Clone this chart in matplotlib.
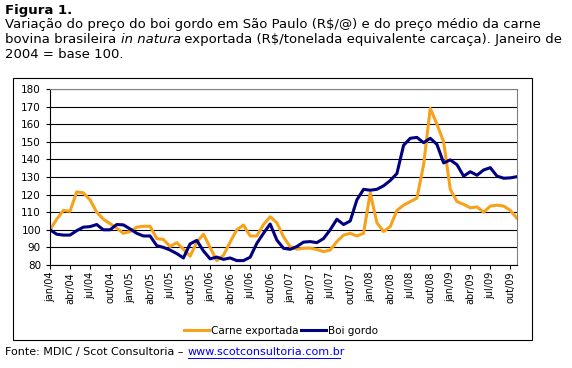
import matplotlib
matplotlib.use("Agg")
import matplotlib.pyplot as plt
from matplotlib.patches import Rectangle

# monthly series, jan/04 .. nov/09 (jan/2004 = 100)
carne = [100, 106, 111, 110.5, 121.5, 121, 117, 110, 106, 103.5,
         101, 98, 99, 101.5, 102, 102, 95, 94.5, 90.5, 92.7,
         89, 85, 93, 97.5, 90, 82.5, 85.5, 93, 100, 102.7,
         96.5, 96.5, 103, 107.4, 104, 96, 90.4, 89, 89.5, 89.6,
         88.8, 87.6, 88.5, 93.3, 97, 98, 96.5, 98, 121, 104,
         99, 101.8, 111, 114, 116, 118, 137, 169, 160, 150,
         123, 116, 114.5, 112.5, 113, 110, 113.5, 114, 113.5, 111,
         106.5]
boi = [100, 97.5, 97, 97, 99.5, 101.5, 101.8, 103, 100, 100,
       103, 102.8, 100.5, 98, 96.5, 96.5, 91, 90, 88.5, 86.5,
       84, 92, 94, 88, 83.5, 84.5, 83.2, 84, 82.5, 82.5,
       84.4, 92.3, 98, 103.3, 94.2, 89.5, 88.9, 90.5, 93, 93.3,
       92.7, 95, 100, 106, 103, 105, 117, 123, 122.5, 123,
       125, 128, 132, 148, 152, 152.5, 149.5, 152, 148.5, 138,
       139.7, 137, 130.5, 133, 131, 134, 135.3, 130.5, 129.3, 129.5,
       130.2]
meses = ["jan", "abr", "jul", "out"]
anos = ["04", "05", "06", "07", "08", "09"]
tick_labels = [m + "/" + a for a in anos for m in meses]

W, H = 572, 368
fig = plt.figure(figsize=(W / 100, H / 100), dpi=100)
renderer = fig.canvas.get_renderer()

def px(x, y):
    return x / W, 1 - y / H

fs = 9.5

# title block (plain text, no mathtext because of the R$ signs)
fig.text(*px(5, 4), "Figura 1.", fontsize=fs, fontweight="bold", va="top")
fig.text(*px(5, 18),
         "Variação do preço do boi gordo em São Paulo (R$/@) e do preço médio da carne",
         fontsize=fs, va="top")
xpos = 5
for piece, style in [("bovina brasileira ", "normal"), ("in natura", "italic"),
                     (" exportada (R$/tonelada equivalente carcaça). Janeiro de", "normal")]:
    t = fig.text(*px(xpos, 33), piece, fontsize=fs, va="top", style=style)
    xpos += t.get_window_extent(renderer).width
fig.text(*px(5, 48), "2004 = base 100.", fontsize=fs, va="top")

# outer frame
fig.patches.append(Rectangle(px(13, 340), 519 / W, 262 / H, transform=fig.transFigure,
                             fill=False, edgecolor="black", linewidth=0.8))

ax = fig.add_axes([50 / W, (H - 265) / H, 467 / W, 176 / H])
x = list(range(len(carne)))
ax.plot(x, carne, color="#F7A21B", linewidth=2.2, label="Carne exportada")
ax.plot(x, boi, color="#000080", linewidth=2.2, label="Boi gordo")

ax.set_xlim(0, len(carne) - 1)
ax.set_ylim(80, 180)
ax.set_yticks(range(80, 181, 10))
ax.yaxis.grid(True, color="black", linewidth=0.8)
ax.set_axisbelow(True)
ax.set_xticks(range(0, 3 * len(tick_labels), 3))
ax.set_xticklabels(tick_labels, rotation=90, fontsize=7)
ax.tick_params(axis="y", labelsize=7.5, length=3, width=0.8)
ax.tick_params(axis="x", length=3, width=0.8, pad=2)
ax.spines["top"].set_color("#808080")
ax.spines["right"].set_color("#808080")
ax.spines["left"].set_linewidth(0.8)
ax.spines["bottom"].set_linewidth(0.8)

fig.legend(loc="center", bbox_to_anchor=px(281, 331), ncol=2, frameon=False,
           fontsize=7.5, handlelength=2.4, handletextpad=0.2, columnspacing=0.3)

fig.text(*px(5, 352), "Fonte: MDIC / Scot Consultoria – ", fontsize=8, va="center")
fig.text(*px(188, 352), "www.scotconsultoria.com.br", fontsize=8, va="center",
         color="#0000EE")
fig.lines.append(plt.Line2D([188 / W, 340 / W], [1 - 358 / H, 1 - 358 / H],
                            transform=fig.transFigure, color="#0000EE", linewidth=0.7))

fig.savefig("out.png", dpi=100)
